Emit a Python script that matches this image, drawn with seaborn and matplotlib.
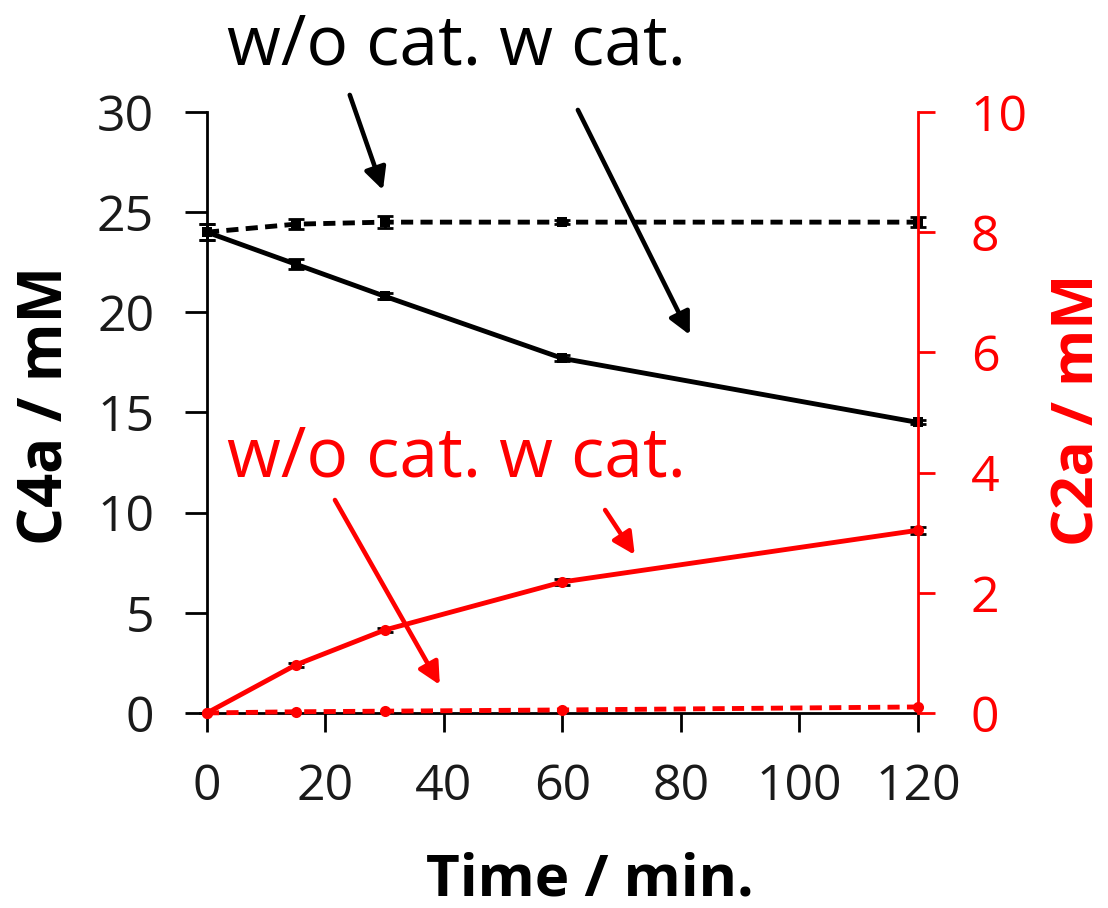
import matplotlib
matplotlib.use("Agg")
import matplotlib.pyplot as plt
import seaborn as sns
import pandas as pd
import numpy as np

time = [0, 15, 30, 60, 120]
c4a_wcat = [24.0, 22.4, 20.8, 17.7, 14.5]
c4a_wcat_err = [0.4, 0.25, 0.15, 0.15, 0.1]
c4a_wocat = [24.0, 24.4, 24.5, 24.5, 24.5]
c4a_wocat_err = [0.4, 0.25, 0.3, 0.1, 0.25]
c2a_wcat = [0.0, 0.8, 1.38, 2.18, 3.04]
c2a_wcat_err = [0.0, 0.03, 0.03, 0.05, 0.06]
c2a_wocat = [0.0, 0.02, 0.03, 0.05, 0.1]

sns.set_theme(style="ticks")
plt.rcParams['font.family'] = ['Open Sans', 'DejaVu Sans']

fig = plt.figure(figsize=(11.08, 9.08), dpi=100)
ax = fig.add_axes([0.1868, 0.2148, 0.6417, 0.6619])
ax2 = ax.twinx()

df = pd.DataFrame({"t": time, "wcat": c4a_wcat, "wocat": c4a_wocat,
                   "r_wcat": c2a_wcat, "r_wocat": c2a_wocat})

LW = 3.5
DASH = (0, (2.5, 1.5))
sns.lineplot(data=df, x="t", y="wcat", ax=ax, color="black", lw=LW,
             marker="s", markersize=7, markeredgewidth=0, clip_on=False, zorder=3)
sns.lineplot(data=df, x="t", y="wocat", ax=ax, color="black", lw=LW, linestyle=DASH,
             marker="s", markersize=7, markeredgewidth=0, clip_on=False, zorder=3)
ax.errorbar(time, c4a_wcat, yerr=c4a_wcat_err, fmt="none", ecolor="black",
            elinewidth=2, capsize=6, capthick=2, clip_on=False)
ax.errorbar(time, c4a_wocat, yerr=c4a_wocat_err, fmt="none", ecolor="black",
            elinewidth=2, capsize=6, capthick=2, clip_on=False)

sns.lineplot(data=df, x="t", y="r_wcat", ax=ax2, color="red", lw=LW,
             marker="o", markersize=8, markeredgewidth=0, clip_on=False, zorder=3)
sns.lineplot(data=df, x="t", y="r_wocat", ax=ax2, color="red", lw=LW, linestyle=DASH,
             marker="o", markersize=8, markeredgewidth=0, clip_on=False, zorder=3)
ax2.errorbar(time, c2a_wcat, yerr=c2a_wcat_err, fmt="none", ecolor="black",
             elinewidth=1.5, capsize=6, capthick=2, clip_on=False)

ax.set_xlim(0, 120)
ax.set_ylim(0, 30)
ax2.set_ylim(0, 10)
ax.set_xticks([0, 20, 40, 60, 80, 100, 120])
ax.set_yticks([0, 5, 10, 15, 20, 25, 30])
ax2.set_yticks([0, 2, 4, 6, 8, 10])

ax.spines["top"].set_visible(False)
ax2.spines["top"].set_visible(False)
ax2.spines["left"].set_visible(False)
ax2.spines["bottom"].set_visible(False)
ax.spines["right"].set_visible(False)
for sp in ["left", "bottom"]:
    ax.spines[sp].set_color("black")
    ax.spines[sp].set_linewidth(2)
ax2.spines["right"].set_color("red")
ax2.spines["right"].set_linewidth(2)

ax.tick_params(axis="y", direction="out", length=16, width=2, color="black",
               labelsize=36, labelcolor="#1a1a1a", pad=22)
ax.tick_params(axis="x", direction="out", length=14, width=2, color="black",
               labelsize=36, labelcolor="#1a1a1a", pad=22)
ax2.tick_params(axis="y", direction="out", length=12, width=2, color="red",
                labelsize=36, labelcolor="red", pad=26)

ax.set_xlabel("Time / min.", fontsize=42, fontweight="bold", color="black",
              va="center", ha="center")
ax.xaxis.set_label_coords(0.539, -0.278)
ax.set_ylabel("C4a / mM", fontsize=43, fontweight="bold", color="black",
              va="center", ha="center")
ax.yaxis.set_label_coords(-0.225, 0.512)
ax2.set_ylabel("C2a / mM", fontsize=42, fontweight="bold", color="red",
               va="center", ha="center")
ax2.yaxis.set_label_coords(1.226, 0.504)

ax.text(3.3, 32.35, "w/o cat. w cat.", fontsize=50, color="black", va="baseline",
        ha="left", clip_on=False)
ax.text(3.3, 11.78, "w/o cat. w cat.", fontsize=50, color="red", va="baseline",
        ha="left", clip_on=False)

arrowprops_k = dict(arrowstyle="-|>,head_length=1.1,head_width=0.55", color="black", lw=3.3,
                    shrinkA=0, shrinkB=0)
arrowprops_r = dict(arrowstyle="-|>,head_length=1.1,head_width=0.55", color="red", lw=3.3,
                    shrinkA=0, shrinkB=0)
ax.annotate("", xy=(29.7, 26.1), xytext=(24.1, 30.85), arrowprops=arrowprops_k,
            annotation_clip=False)
ax.annotate("", xy=(81.5, 18.87), xytext=(62.6, 30.1), arrowprops=arrowprops_k,
            annotation_clip=False)
ax.annotate("", xy=(39.3, 1.40), xytext=(21.6, 10.63), arrowprops=arrowprops_r,
            annotation_clip=False)
ax.annotate("", xy=(72.2, 7.89), xytext=(67.2, 10.13), arrowprops=arrowprops_r,
            annotation_clip=False)

fig.savefig("out.png", dpi=100)
